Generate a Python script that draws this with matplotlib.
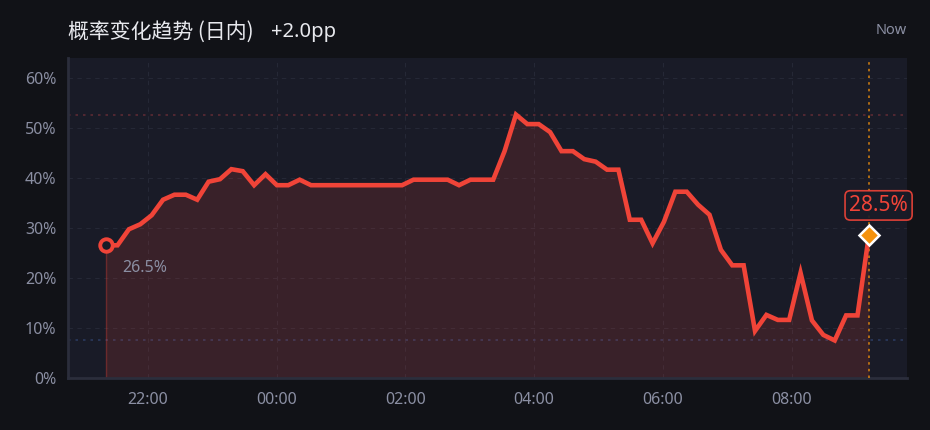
import matplotlib
matplotlib.use("Agg")
import matplotlib.pyplot as plt
import matplotlib.dates as mdates
import pandas as pd
import numpy as np

plt.rcParams['font.family'] = ['Noto Sans', 'Noto Sans CJK SC', 'DejaVu Sans']

# ---- data ----
title_text = "概率变化趋势 (日内)"
change_text = "+2.0pp"
now_label = "Now"
start_time = "2024-01-01 21:21"
end_time = "2024-01-02 09:12"
probability = [
    26.5, 26.5, 29.7, 30.7, 32.5, 35.6, 36.6, 36.6, 35.6, 39.2,
    39.7, 41.7, 41.3, 38.5, 40.7, 38.5, 38.5, 39.6, 38.5, 38.5,
    38.5, 38.5, 38.5, 38.5, 38.5, 38.5, 38.5, 39.6, 39.6, 39.6,
    39.6, 38.5, 39.6, 39.6, 39.6, 45.3, 52.6, 50.7, 50.7, 49.1,
    45.3, 45.3, 43.7, 43.2, 41.6, 41.6, 31.6, 31.6, 26.9, 31.2,
    37.2, 37.2, 34.6, 32.6, 25.6, 22.5, 22.5, 9.4, 12.6, 11.6,
    11.6, 21.0, 11.5, 8.6, 7.5, 12.5, 12.5, 28.5,
]
y_ticks = [0, 10, 20, 30, 40, 50, 60]
x_tick_labels = ["22:00", "00:00", "02:00", "04:00", "06:00", "08:00"]
x_tick_times = ["2024-01-01 22:00", "2024-01-02 00:00", "2024-01-02 02:00",
                "2024-01-02 04:00", "2024-01-02 06:00", "2024-01-02 08:00"]

times = pd.date_range(start_time, end_time, periods=len(probability))
vals = np.array(probability)

# ---- style ----
FIG_BG = "#111217"
AX_BG = "#191b27"
LINE = "#f04438"
ORANGE = "#f5920c"
TICK = "#8b8fa3"
GRID = "#252836"
SPINE = "#2b2e3c"

fig = plt.figure(figsize=(9.3, 4.3), dpi=100, facecolor=FIG_BG)
ax = fig.add_axes([68/930, 1-378/430, (907-68)/930, (378-57.5)/430])
ax.set_facecolor(AX_BG)

x = mdates.date2num(times)
ax.fill_between(x, 0, vals, color=LINE, alpha=0.15, linewidth=0, zorder=2)
ax.plot([x[0], x[0]], [0, vals[0]], color=LINE, alpha=0.35, lw=1, zorder=2)
ax.plot(x, vals, color=LINE, lw=3.3, solid_joinstyle='miter', zorder=4)

# max/min reference lines
ax.axhline(vals.max(), color="#5c2a34", lw=1.2, ls=(0, (1.5, 3)), zorder=1)
ax.axhline(vals.min(), color="#2b3a5e", lw=1.2, ls=(0, (1.5, 3)), zorder=1)
# now line
ax.axvline(x[-1], color=ORANGE, lw=1.2, ls=(0, (1.5, 2.5)), alpha=0.8, zorder=3)

# markers
ax.plot(x[0], vals[0], 'o', ms=9, mfc=AX_BG, mec=LINE, mew=2.8, zorder=6)
ax.plot(x[-1], vals[-1], 'D', ms=10, mfc=ORANGE, mec="white", mew=1.8, zorder=6)

ax.annotate(f"{vals[0]:.1f}%", (x[0], vals[0]), xytext=(11.5, -16),
            textcoords='offset points', ha='left', va='center',
            color=TICK, fontsize=11.5, zorder=7)
ax.annotate(f"{vals[-1]:.1f}%", (x[-1], vals[-1]), xytext=(7, 21.5),
            textcoords='offset points', ha='center', va='center',
            color=LINE, fontsize=15, zorder=7,
            bbox=dict(boxstyle="round,pad=0.2,rounding_size=0.25",
                      fc=AX_BG, ec=LINE, lw=1.2, alpha=0.9))

span = x[-1] - x[0]
ax.set_xlim(x[0] - 0.05 * span, x[-1] + 0.05 * span)
ax.set_ylim(0, 64)

ax.set_yticks(y_ticks)
ax.set_yticklabels([f"{t}%" for t in y_ticks])
ax.set_xticks(mdates.date2num(pd.to_datetime(x_tick_times)))
ax.set_xticklabels(x_tick_labels)
ax.tick_params(axis='both', length=0, colors=TICK, labelsize=11.5)
ax.tick_params(axis='y', pad=8.5)
ax.tick_params(axis='x', pad=10)

ax.grid(True, color=GRID, lw=0.8, ls=(0, (4, 4)), zorder=0)
ax.set_axisbelow(True)
for s in ['top', 'right']:
    ax.spines[s].set_visible(False)
for s in ['left', 'bottom']:
    ax.spines[s].set_color(SPINE)
    ax.spines[s].set_linewidth(2)

fig.text(68/930, 1-32/430, title_text, color="#e8e9ee",
         fontsize=15, ha='left', va='center',
         family=['Noto Sans CJK SC', 'DejaVu Sans'])
fig.text(271/930, 1-32/430, change_text, color="#e8e9ee",
         fontsize=14.5, ha='left', va='center')
fig.text(907/930, 1-30/430, now_label, color=TICK, fontsize=10.5,
         ha='right', va='center')

fig.savefig("out.png", dpi=100, facecolor=FIG_BG)
